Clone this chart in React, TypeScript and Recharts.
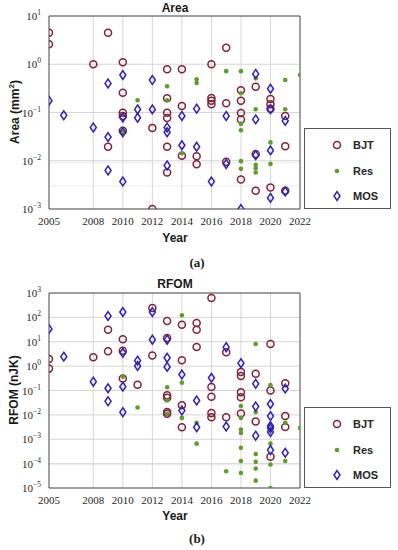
import React from "react";
import { ScatterChart, Scatter, XAxis, YAxis, CartesianGrid, ReferenceArea } from "recharts";

type Pt = [number, number];

// year ticks (MATLAB skips 2006)
const yearTicks = [2005, 2008, 2010, 2012, 2014, 2016, 2018, 2020, 2022];
const areaTicks = [10, 1, 0.1, 0.01, 0.001];
const rfomTicks = [1000, 100, 10, 1, 0.1, 0.01, 0.001, 1e-4, 1e-5];

// (a) Area, mm^2
const areaBJT: Pt[] = [
  [2005, 4.5], [2005, 2.6], [2008, 1.0], [2009, 4.5], [2009, 0.0195],
  [2010, 1.1], [2010, 0.257], [2010, 0.099], [2010, 0.085], [2010, 0.042],
  [2012, 0.048], [2012, 0.001],
  [2013, 0.79], [2013, 0.197], [2013, 0.099], [2013, 0.077], [2013, 0.0195], [2013, 0.0057],
  [2014, 0.79], [2014, 0.136], [2014, 0.0127],
  [2015, 0.0124], [2015, 0.0085],
  [2016, 1.0], [2016, 0.2], [2016, 0.175], [2016, 0.148],
  [2017, 2.2], [2017, 0.155], [2017, 0.0095],
  [2018, 0.29], [2018, 0.176], [2018, 0.098], [2018, 0.072], [2018, 0.0041],
  [2019, 0.34], [2019, 0.0138], [2019, 0.0024],
  [2020, 0.19], [2020, 0.148], [2020, 0.12], [2020, 0.0028],
  [2021, 0.085], [2021, 0.02], [2021, 0.0024],
];
const areaRes: Pt[] = [
  [2010, 0.04], [2011, 0.18], [2013, 0.35], [2013, 0.18], [2014, 0.0143],
  [2015, 0.49], [2015, 0.41], [2017, 0.72],
  [2018, 0.72], [2018, 0.25], [2018, 0.058], [2018, 0.043], [2018, 0.0098], [2018, 0.0068],
  [2019, 0.51], [2019, 0.117], [2019, 0.0082], [2019, 0.007], [2019, 0.0057],
  [2020, 0.024], [2020, 0.0086], [2021, 0.47], [2021, 0.117], [2022, 0.6],
];
const areaMOS: Pt[] = [
  [2005, 0.176], [2006, 0.0875], [2008, 0.049],
  [2009, 0.4], [2009, 0.031], [2009, 0.0063],
  [2010, 0.6], [2010, 0.079], [2010, 0.039], [2010, 0.0037],
  [2011, 0.116], [2011, 0.078], [2012, 0.47], [2012, 0.116],
  [2013, 0.049], [2013, 0.039], [2013, 0.008],
  [2014, 0.085], [2014, 0.021], [2015, 0.12], [2015, 0.0195],
  [2016, 0.0037], [2017, 0.085], [2017, 0.0086], [2018, 0.001],
  [2019, 0.63], [2019, 0.072], [2019, 0.013],
  [2020, 0.31], [2020, 0.117], [2020, 0.0164], [2020, 0.0017],
  [2021, 0.067], [2021, 0.0023],
];

// (b) RFOM, nJK
const rfomBJT: Pt[] = [
  [2005, 1.97], [2005, 0.79], [2008, 2.3], [2009, 31], [2009, 4.1],
  [2010, 12.6], [2010, 4.3], [2010, 0.31], [2011, 0.174],
  [2012, 243], [2012, 2.7],
  [2013, 71], [2013, 14.3], [2013, 0.064], [2013, 0.05], [2013, 0.013], [2013, 0.011],
  [2014, 50], [2014, 1.74], [2014, 0.025], [2014, 0.0031],
  [2015, 59], [2015, 31], [2015, 6.1],
  [2016, 624], [2016, 0.14], [2016, 0.056], [2016, 0.0118], [2016, 0.008],
  [2017, 3.7], [2017, 0.008],
  [2018, 0.57], [2018, 0.39], [2018, 0.085], [2018, 0.053], [2018, 0.0113],
  [2019, 0.49], [2019, 0.0054],
  [2020, 8.1], [2020, 0.1], [2020, 0.00019],
  [2021, 0.2], [2021, 0.0089], [2021, 0.0032],
];
const rfomRes: Pt[] = [
  [2010, 0.37], [2011, 0.02], [2013, 0.136], [2013, 0.039], [2013, 0.011],
  [2014, 122], [2014, 0.21], [2014, 0.0075],
  [2015, 0.0047], [2015, 0.00066], [2017, 0.000049],
  [2018, 0.023], [2018, 0.0075], [2018, 0.0025], [2018, 0.0018], [2018, 0.00045], [2018, 0.000129], [2018, 0.000041],
  [2019, 8.1], [2019, 0.013], [2019, 0.00025], [2019, 0.000118], [2019, 0.000063], [2019, 0.00002],
  [2020, 0.166], [2020, 0.00066], [2020, 0.000092], [2020, 0.00001],
  [2021, 0.0047], [2021, 0.000129], [2022, 0.0029],
];
const rfomMOS: Pt[] = [
  [2005, 33.5], [2006, 2.45], [2008, 0.23],
  [2009, 114], [2009, 0.124], [2009, 0.036],
  [2010, 166], [2010, 3.5], [2010, 0.144], [2010, 0.0129],
  [2011, 1.68], [2011, 1.02], [2012, 166], [2012, 12.2],
  [2013, 12.2], [2013, 2.2], [2013, 0.93],
  [2014, 0.45], [2014, 0.015], [2015, 0.039], [2015, 0.0031],
  [2016, 0.33], [2017, 6.0], [2017, 0.0033], [2018, 1.32],
  [2019, 0.19], [2019, 0.022], [2019, 0.0014],
  [2020, 0.028], [2020, 0.0089], [2020, 0.0035], [2020, 0.0028], [2020, 0.002], [2020, 0.00036],
  [2021, 0.12], [2021, 0.00028],
];

const BJT_COLOR = "#7f2238";
const RES_COLOR = "#5e9c2c";
const MOS_COLOR = "#2f1fb5";
const SERIF = "'Liberation Serif', 'DejaVu Serif', serif";
const SANS = "'Liberation Sans', Arial, sans-serif";

const toPts = (arr: Pt[]) => arr.map(([x, y]) => ({ x, y }));

function minorTicks(major: number[]) {
  const out: number[] = [];
  major.slice(1).forEach(d => {
    for (let m = 2; m <= 9; m++) out.push(d * m);
  });
  return out;
}

const circleShape = (p: any) => (
  <circle cx={p.cx} cy={p.cy} r={3.5} fill="none" stroke={BJT_COLOR} strokeWidth={1.5} />
);
const dotShape = (p: any) => <circle cx={p.cx} cy={p.cy} r={2.3} fill={RES_COLOR} />;
const diamondShape = (p: any) => (
  <path
    d={`M${p.cx},${p.cy - 4.4} L${p.cx + 3},${p.cy} L${p.cx},${p.cy + 4.4} L${p.cx - 3},${p.cy} Z`}
    fill="none"
    stroke={MOS_COLOR}
    strokeWidth={1.5}
  />
);

function PowTick(props: any) {
  const { x, y, payload } = props;
  const exp = Math.round(Math.log10(payload.value));
  const e = exp < 0 ? `\u2212${-exp}` : `${exp}`;
  return (
    <text x={x} y={y + 4} textAnchor="end" fontFamily={SERIF} fontSize={11} fill="#262626">
      10<tspan dy={-5} fontSize={7.5}>{e}</tspan>
    </text>
  );
}

function YearTick(props: any) {
  const { x, y, payload } = props;
  return (
    <text x={x} y={y + 8} textAnchor="middle" fontFamily={SERIF} fontSize={11} fill="#262626">
      {payload.value}
    </text>
  );
}

interface PanelProps {
  top: number;
  height: number;
  marginTop: number;
  marginBottom: number;
  ticks: number[];
  bjt: Pt[];
  res: Pt[];
  mos: Pt[];
}

function Panel({ top, height, marginTop, marginBottom, ticks, bjt, res, mos }: PanelProps) {
  const domain: [number, number] = [ticks[ticks.length - 1], ticks[0]];
  return (
    <div style={{ position: "absolute", left: 0, top }}>
      <ScatterChart width={398} height={height} margin={{ top: marginTop, right: 98, bottom: marginBottom, left: 9 }}>
        <YAxis yAxisId="minor" type="number" scale="log" domain={domain} ticks={minorTicks(ticks)} allowDataOverflow hide />
        <CartesianGrid yAxisId="minor" vertical={false} stroke="#ebebeb" />
        <CartesianGrid stroke="#d6d6d6" />
        <XAxis
          type="number"
          dataKey="x"
          domain={[2005, 2022]}
          ticks={yearTicks}
          interval={0}
          allowDataOverflow
          height={20}
          tickLine={false}
          axisLine={false}
          tick={<YearTick />}
        />
        <YAxis
          type="number"
          dataKey="y"
          scale="log"
          domain={domain}
          ticks={ticks}
          interval={0}
          allowDataOverflow
          width={40}
          tickLine={false}
          axisLine={false}
          tick={<PowTick />}
        />
        <ReferenceArea x1={2005} x2={2022} y1={domain[0]} y2={domain[1]} fill="none" stroke="#333" strokeWidth={0.8} />
        <Scatter data={toPts(bjt)} shape={circleShape} isAnimationActive={false} />
        <Scatter data={toPts(res)} shape={dotShape} isAnimationActive={false} />
        <Scatter data={toPts(mos)} shape={diamondShape} isAnimationActive={false} />
      </ScatterChart>
    </div>
  );
}

function LegendBox({ top }: { top: number }) {
  const items = [
    { label: "BJT", shape: <circle cx={10} cy={10} r={3.5} fill="none" stroke={BJT_COLOR} strokeWidth={1.5} /> },
    { label: "Res", shape: <circle cx={10} cy={10} r={2.3} fill={RES_COLOR} /> },
    { label: "MOS", shape: <path d="M10,5.6 L13,10 L10,14.4 L7,10 Z" fill="none" stroke={MOS_COLOR} strokeWidth={1.5} /> },
  ];
  return (
    <div
      style={{
        position: "absolute", left: 304, top, width: 87, height: 81,
        border: "1px solid #555", background: "#fff", boxSizing: "border-box",
      }}
    >
      {items.map((it, i) => (
        <div key={it.label} style={{ position: "absolute", left: 22, top: 6 + i * 25.5, height: 20, display: "flex", alignItems: "center" }}>
          <svg width={20} height={20}>{it.shape}</svg>
          <span style={{ marginLeft: 6, fontFamily: SANS, fontWeight: "bold", fontSize: 11, color: "#262626" }}>{it.label}</span>
        </div>
      ))}
    </div>
  );
}

const textBase: React.CSSProperties = {
  position: "absolute", fontFamily: SANS, fontWeight: "bold", fontSize: 12, color: "#1a1a1a",
  whiteSpace: "nowrap", transform: "translate(-50%, -50%)", lineHeight: 1,
};

export default function App() {
  return (
    <div style={{ position: "absolute", left: 0, top: 0, width: 398, height: 550, background: "#fff", overflow: "hidden" }}>
      <Panel top={0} height={270} marginTop={16} marginBottom={41} ticks={areaTicks} bjt={areaBJT} res={areaRes} mos={areaMOS} />
      <Panel top={270} height={280} marginTop={23} marginBottom={42} ticks={rfomTicks} bjt={rfomBJT} res={rfomRes} mos={rfomMOS} />

      <div style={{ ...textBase, left: 175, top: 8 }}>Area</div>
      <div style={{ ...textBase, left: 14, top: 112, transform: "translate(-50%, -50%) rotate(-90deg)" }}>
        Area (mm<sup style={{ fontSize: 8 }}>2</sup>)
      </div>
      <div style={{ ...textBase, left: 175, top: 238 }}>Year</div>
      <div style={{ ...textBase, left: 197, top: 262, fontFamily: SERIF, fontSize: 13 }}>(a)</div>
      <LegendBox top={128} />

      <div style={{ ...textBase, left: 175, top: 284 }}>RFOM</div>
      <div style={{ ...textBase, left: 14, top: 390, transform: "translate(-50%, -50%) rotate(-90deg)" }}>RFOM (nJK)</div>
      <div style={{ ...textBase, left: 175, top: 516 }}>Year</div>
      <div style={{ ...textBase, left: 197, top: 538, fontFamily: SERIF, fontSize: 13 }}>(b)</div>
      <LegendBox top={407} />
    </div>
  );
}
